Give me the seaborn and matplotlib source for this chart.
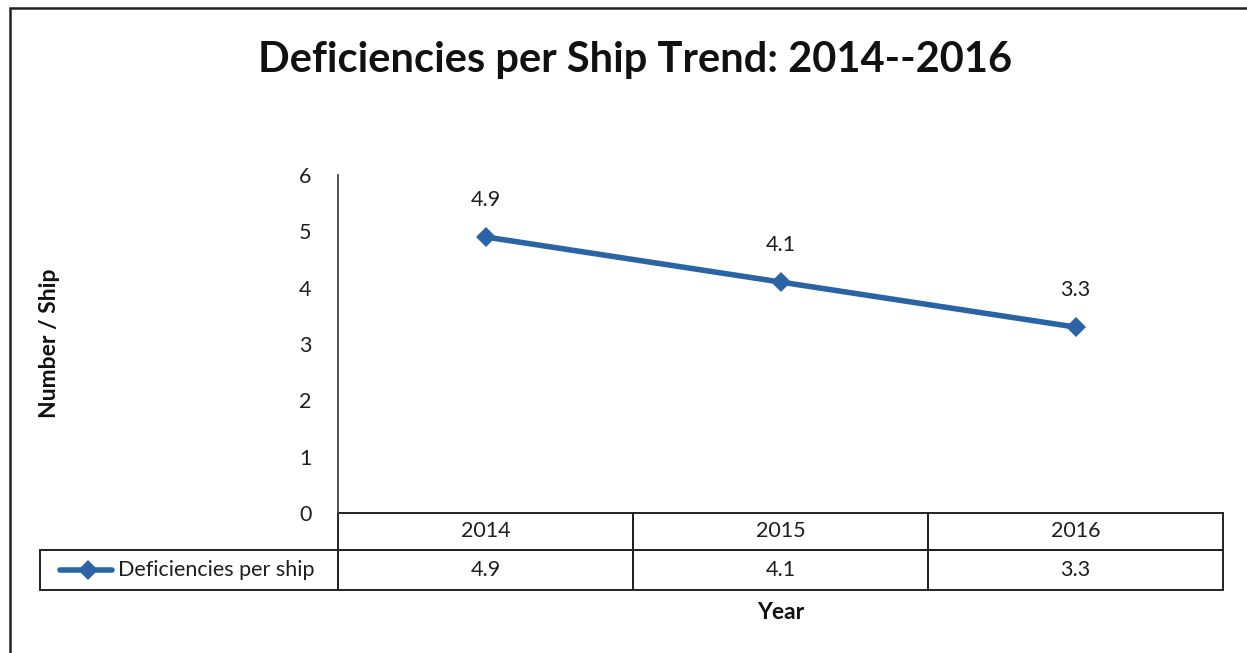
import numpy as np
import pandas as pd
import seaborn as sns
import matplotlib.pyplot as plt
from matplotlib.lines import Line2D
from matplotlib.patches import Rectangle

# data
years = ['2014', '2015', '2016']
deficiencies = [4.9, 4.1, 3.3]
series_name = 'Deficiencies per ship'

line_color = '#2a64a4'
text_color = '#1e1e1e'
edge_color = '#222222'

sns.set_theme(style='white')
plt.rcParams['font.family'] = ['Lato', 'DejaVu Sans']

df = pd.DataFrame({'pos': np.arange(len(years)), 'value': deficiencies})

fig = plt.figure(figsize=(12.47, 6.53), dpi=100)
ax = fig.add_axes([0.2711, 0.2144, 0.7097, 0.5176])

sns.lineplot(data=df, x='pos', y='value', ax=ax, color=line_color,
             linewidth=4, marker='D', markersize=10, markeredgewidth=0)

ax.set_xlim(-0.5, len(years) - 0.5)
ax.set_ylim(0, 6)
ax.set_yticks(range(0, 7))
ax.set_xticks([])
ax.tick_params(axis='y', length=0, pad=19, labelsize=15.5, labelcolor=text_color)
for s in ['top', 'right', 'bottom']:
    ax.spines[s].set_visible(False)
ax.spines['left'].set_color('#444444')
ax.spines['left'].set_linewidth(1.3)

# data labels
for x, v in zip(df['pos'], df['value']):
    ax.annotate(f'{v:.1f}', (x, v), xytext=(0, 37), textcoords='offset pixels',
                ha='center', va='center', fontsize=15.5, color=text_color)

# data table below the plot (x in data units, y in axes fraction)
trans = ax.get_xaxis_transform()
h1 = 37 / 338   # header row height
h2 = 40 / 338   # value row height
row_w = 298 / 295  # row label cell width in category units
cell_kw = dict(fill=False, edgecolor=edge_color, linewidth=1.4,
               transform=trans, clip_on=False)
for i, (yr, v) in enumerate(zip(years, deficiencies)):
    ax.add_patch(Rectangle((i - 0.5, -h1), 1, h1, **cell_kw))
    ax.add_patch(Rectangle((i - 0.5, -h1 - h2), 1, h2, **cell_kw))
    ax.text(i, -h1 / 2, yr, transform=trans, ha='center', va='center',
            fontsize=15.5, color=text_color)
    ax.text(i, -h1 - h2 / 2, f'{v:.1f}', transform=trans, ha='center',
            va='center', fontsize=15.5, color=text_color)
ax.add_patch(Rectangle((-0.5 - row_w, -h1 - h2), row_w, h2, **cell_kw))

# legend key inside row label cell
ky = -h1 - h2 / 2
ax.add_line(Line2D([-0.5 - 278 / 295, -0.5 - 226 / 295], [ky, ky], transform=trans,
                   color=line_color, linewidth=4, clip_on=False))
ax.add_line(Line2D([-0.5 - 250 / 295], [ky], transform=trans, marker='D',
                   markersize=10, color=line_color, markeredgewidth=0,
                   linestyle='none', clip_on=False))
ax.text(-0.5 - 220 / 295, ky, series_name, transform=trans, ha='left',
        va='center', fontsize=15.5, color=text_color)

# axis labels
ax.set_ylabel('Number / Ship', fontsize=16.5, fontweight='bold', color='#111111')
ax.yaxis.set_label_coords(-0.314, 0.503)
ax.set_xlabel('Year', fontsize=16.5, fontweight='bold', color='#111111')
ax.xaxis.label.set_va('center')
ax.xaxis.set_label_coords(0.5, -0.293)

fig.text(635.5 / 1247, 1 - 60 / 653, 'Deficiencies per Ship Trend: 2014--2016',
         ha='center', va='center', fontsize=30, fontweight='bold', color='#111111')

# outer frame
fig.patches.append(Rectangle((10 / 1247, -0.1), 1.2, 1.1 - 8 / 653, fill=False,
                             edgecolor='#222222', linewidth=1.8,
                             transform=fig.transFigure, figure=fig))

plt.savefig('out.png', dpi=100)
